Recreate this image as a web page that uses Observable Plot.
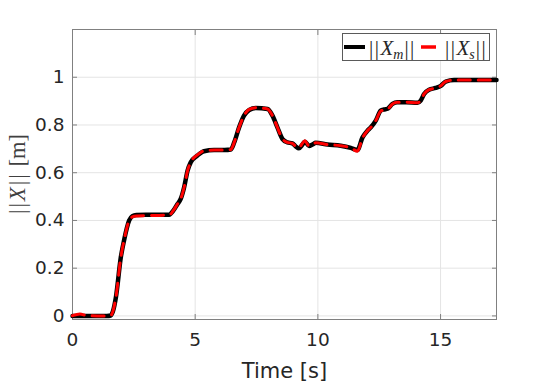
<!DOCTYPE html>
<html><head><meta charset="utf-8">
<script src="https://cdn.jsdelivr.net/npm/d3@7"></script>
<script src="https://cdn.jsdelivr.net/npm/@observablehq/plot@0.6"></script>
<style>
body{margin:0;background:#fff;}
#wrap{position:relative;width:548px;height:384px;overflow:hidden;}
#ylab{position:absolute;left:18px;top:174px;transform:translate(-50%,-50%) rotate(-90deg);white-space:nowrap;font-family:"Liberation Serif","DejaVu Serif",serif;font-size:22.5px;color:#404040;}
#ylab .bar{letter-spacing:2px;}
#legend{position:absolute;left:342px;top:33px;}
</style></head><body><div id="wrap"></div>
<script>
// master position norm ||X_m||
const timeM = [0, 0.5, 1.0, 1.4, 1.56, 1.65, 1.77, 1.97, 2.10, 2.31, 2.44, 2.6, 3.0, 3.5, 3.94, 4.1, 4.28, 4.41, 4.55, 4.69, 4.82, 5.09, 5.36, 5.77, 6.2, 6.45, 6.59, 6.79, 6.99, 7.2, 7.47, 7.95, 8.15, 8.35, 8.56, 8.76, 8.96, 9.1, 9.23, 9.35, 9.47, 9.64, 9.78, 9.91, 10.39, 10.93, 11.34, 11.61, 11.82, 12.02, 12.16, 12.36, 12.56, 12.7, 12.84, 13.04, 13.24, 13.6, 14.06, 14.19, 14.33, 14.53, 14.8, 15.01, 15.21, 15.55, 16.5, 17.28];
const normM = [0, 0, 0, 0, 0.002, 0.02, 0.079, 0.246, 0.316, 0.40, 0.418, 0.423, 0.424, 0.424, 0.424, 0.44, 0.469, 0.49, 0.539, 0.609, 0.644, 0.672, 0.69, 0.695, 0.695, 0.697, 0.727, 0.79, 0.839, 0.863, 0.871, 0.867, 0.839, 0.79, 0.741, 0.727, 0.723, 0.71, 0.702, 0.715, 0.73, 0.712, 0.718, 0.725, 0.718, 0.713, 0.704, 0.695, 0.748, 0.776, 0.79, 0.818, 0.86, 0.865, 0.868, 0.888, 0.895, 0.895, 0.893, 0.902, 0.93, 0.948, 0.955, 0.964, 0.982, 0.988, 0.988, 0.988];
// slave position norm ||X_s||
const timeS = [0, 0.3, 0.6, 1.0, 1.4, 1.56, 1.65, 1.77, 1.97, 2.10, 2.31, 2.44, 2.6, 3.0, 3.5, 3.94, 4.1, 4.28, 4.41, 4.55, 4.69, 4.82, 5.09, 5.36, 5.77, 6.2, 6.45, 6.59, 6.79, 6.99, 7.2, 7.47, 7.95, 8.15, 8.35, 8.56, 8.76, 8.96, 9.1, 9.23, 9.35, 9.47, 9.64, 9.78, 9.91, 10.39, 10.93, 11.34, 11.61, 11.82, 12.02, 12.16, 12.36, 12.56, 12.7, 12.84, 13.04, 13.24, 13.6, 14.06, 14.19, 14.33, 14.53, 14.8, 15.01, 15.21, 15.55, 16.5, 17.28];
const normS = [0.001, 0.008, 0.001, 0, 0, 0.002, 0.02, 0.079, 0.246, 0.316, 0.40, 0.415, 0.419, 0.42, 0.421, 0.422, 0.44, 0.469, 0.49, 0.539, 0.609, 0.644, 0.675, 0.692, 0.695, 0.695, 0.697, 0.727, 0.79, 0.839, 0.865, 0.872, 0.867, 0.839, 0.79, 0.741, 0.727, 0.723, 0.71, 0.704, 0.72, 0.734, 0.712, 0.718, 0.725, 0.718, 0.713, 0.704, 0.69, 0.745, 0.776, 0.79, 0.818, 0.858, 0.863, 0.866, 0.888, 0.895, 0.895, 0.893, 0.902, 0.93, 0.948, 0.955, 0.964, 0.982, 0.988, 0.988, 0.988];

const xTicks = [0, 5, 10, 15];
const yTicks = [0, 0.2, 0.4, 0.6, 0.8, 1];
const xDomain = [0, 17.28];
const yDomain = [-0.015, 1.2];
const xLabel = "Time [s]";

const master = timeM.map((t, i) => ({t, v: normM[i]}));
const slave = timeS.map((t, i) => ({t, v: normS[i]}));

const axisFont = "'DejaVu Sans', sans-serif";
const chart = Plot.plot({
  width: 548, height: 384,
  marginLeft: 72, marginRight: 52, marginTop: 29, marginBottom: 65,
  style: {fontFamily: axisFont, background: "#fff", color: "#262626"},
  x: {domain: xDomain},
  y: {domain: yDomain},
  marks: [
    Plot.gridX(xTicks, {stroke: "#e4e4e4", strokeOpacity: 1}),
    Plot.gridY(yTicks, {stroke: "#e4e4e4", strokeOpacity: 1}),
    Plot.frame({stroke: "#808080"}),
    // inward ticks on all four sides
    Plot.axisX(xTicks, {anchor: "bottom", tickSize: 5, dy: -5, text: null, stroke: "#808080", label: null}),
    Plot.axisX(xTicks, {anchor: "top", tickSize: 5, dy: 5, text: null, stroke: "#808080", label: null}),
    Plot.axisY(yTicks, {anchor: "left", tickSize: 5, dx: 5, text: null, stroke: "#808080", label: null}),
    Plot.axisY(yTicks, {anchor: "right", tickSize: 5, dx: -5, text: null, stroke: "#808080", label: null}),
    // tick labels
    Plot.axisX(xTicks, {anchor: "bottom", tickSize: 0, tickPadding: 13, fontSize: 18.5, fill: "#262626",
      label: xLabel, labelAnchor: "center", labelArrow: "none", labelOffset: 58}),
    Plot.axisY(yTicks, {anchor: "left", tickSize: 0, tickPadding: 8, fontSize: 18.5, fill: "#262626", label: null,
      tickFormat: d => String(d)}),
    Plot.line(master, {x: "t", y: "v", stroke: "#000", strokeWidth: 4.5, curve: "monotone-x"}),
    Plot.line(slave, {x: "t", y: "v", stroke: "#ff0000", strokeWidth: 3, strokeDasharray: "12,8", curve: "monotone-x"})
  ]
});

const wrap = document.getElementById("wrap");
wrap.appendChild(chart);
// style the x-axis title
chart.querySelectorAll("text").forEach(el => {
  if (el.textContent === xLabel) { el.setAttribute("font-size", 21); }
});

const ylab = document.createElement("div");
ylab.id = "ylab";
ylab.innerHTML = "<span class='bar'>||</span><i>X</i>&#8202;<span class='bar'>||</span>&nbsp;[m]";
wrap.appendChild(ylab);

const legend = document.createElement("div");
legend.id = "legend";
legend.innerHTML = `<svg width="148" height="28" xmlns="http://www.w3.org/2000/svg" font-family="'Liberation Serif','DejaVu Serif',serif" font-size="21" fill="#262626">
<rect x="0.5" y="0.5" width="147" height="27" fill="#fff" stroke="#5a5a5a"/>
<line x1="2" x2="23" y1="14" y2="14" stroke="#000" stroke-width="4"/>
<text x="27" y="21.5" letter-spacing="1.5">||<tspan font-style="italic" letter-spacing="0">X</tspan><tspan font-style="italic" font-size="14" dy="4" letter-spacing="1">m</tspan><tspan dy="-4" letter-spacing="1.5">||</tspan></text>
<line x1="79" x2="94" y1="14" y2="14" stroke="#ff0000" stroke-width="3.5"/>
<text x="103" y="21.5" letter-spacing="1.5">||<tspan font-style="italic" letter-spacing="0">X</tspan><tspan font-style="italic" font-size="14" dy="4" letter-spacing="1">s</tspan><tspan dy="-4" letter-spacing="1.5">||</tspan></text>
</svg>`;
wrap.appendChild(legend);
</script>
</body></html>
